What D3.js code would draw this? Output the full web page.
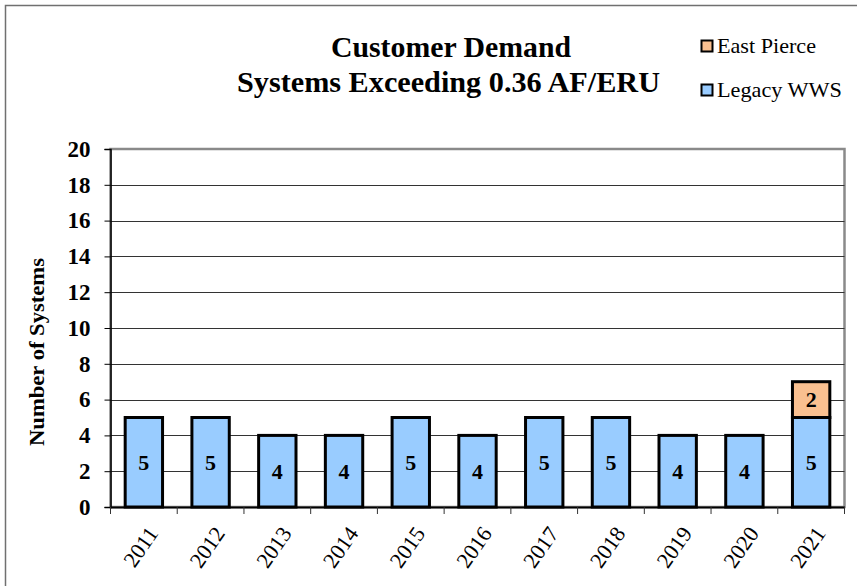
<!DOCTYPE html>
<html>
<head>
<meta charset="utf-8">
<script src="https://cdn.jsdelivr.net/npm/d3@7"></script>
<style>
  html, body { margin: 0; padding: 0; background: #fff; }
  svg { display: block; }
  svg text { font-family: "Liberation Serif", "Times New Roman", serif !important; }
</style>
</head>
<body>
<svg id="chart" width="857" height="586"></svg>
<script>
const years = ["2011","2012","2013","2014","2015","2016","2017","2018","2019","2020","2021"];
const legacyWWS = [5,5,4,4,5,4,5,5,4,4,5];
const eastPierce = [0,0,0,0,0,0,0,0,0,0,2];
const yTicks = [0,2,4,6,8,10,12,14,16,18,20];
const seriesNames = ["Legacy WWS", "East Pierce"];
const seriesColors = ["#99CCFF", "#FAC090"];
const titleLines = ["Customer Demand", "Systems Exceeding 0.36 AF/ERU"];
const yTitle = "Number of Systems";

const FONT = "Liberation Serif, Times New Roman, serif";
const svg = d3.select("#chart");
const plot = {left: 110.5, right: 844.5, top: 149, bottom: 507};

// outer border
svg.append("rect").attr("x", 5.5).attr("y", 5.5).attr("width", 900).attr("height", 700)
  .attr("fill", "none").attr("stroke", "#707070").attr("stroke-width", 1.5);

const x = d3.scaleBand().domain(years).range([plot.left, plot.right]).paddingInner(0.44).paddingOuter(0.22);
const y = d3.scaleLinear().domain([0, 20]).range([plot.bottom, plot.top]);

// plot area frame (gray)
svg.append("rect").attr("x", plot.left).attr("y", plot.top)
  .attr("width", plot.right - plot.left).attr("height", plot.bottom - plot.top)
  .attr("fill", "none").attr("stroke", "#8a8a8a").attr("stroke-width", 2.5);

// gridlines
svg.append("g").selectAll("line").data(yTicks.filter(d => d > 0 && d < 20)).join("line")
  .attr("x1", plot.left).attr("x2", plot.right)
  .attr("y1", d => Math.round(y(d)) + 0.5).attr("y2", d => Math.round(y(d)) + 0.5)
  .attr("stroke", "#333").attr("stroke-width", 1);

// stacked data
const rows = years.map((yr, i) => ({year: yr, "Legacy WWS": legacyWWS[i], "East Pierce": eastPierce[i]}));
const stack = d3.stack().keys(seriesNames)(rows);

const bars = svg.append("g");
stack.forEach((s, si) => {
  bars.append("g").selectAll("rect").data(s.filter(d => d[1] - d[0] > 0)).join("rect")
    .attr("x", d => x(d.data.year))
    .attr("y", d => y(d[1]))
    .attr("width", x.bandwidth())
    .attr("height", d => y(d[0]) - y(d[1]))
    .attr("fill", seriesColors[si])
    .attr("stroke", "#000").attr("stroke-width", 3);
});

// segment labels
stack.forEach((s, si) => {
  bars.append("g").selectAll("text").data(s.filter(d => d[1] - d[0] > 0)).join("text")
    .attr("x", d => x(d.data.year) + x.bandwidth() / 2)
    .attr("y", d => y((d[0] + d[1]) / 2))
    .attr("dy", "0.35em")
    .attr("text-anchor", "middle")
    .attr("font-family", FONT)
    .attr("font-weight", "bold").attr("font-size", 22)
    .text(d => d[1] - d[0]);
});

// Y axis
const yAxis = d3.axisLeft(y).tickValues(yTicks).tickSize(6).tickPadding(14);
const gy = svg.append("g").attr("transform", `translate(${plot.left},0)`).call(yAxis);
gy.attr("font-family", FONT);
gy.select(".domain").attr("stroke", "#000").attr("stroke-width", 1.5);
gy.selectAll(".tick line").attr("stroke", "#000");
gy.selectAll(".tick text")
  .attr("font-size", 23).attr("font-weight", "bold").attr("fill", "#000");

// X axis
const xAxis = d3.axisBottom(x).tickSize(0).tickFormat("");
const gx = svg.append("g").attr("transform", `translate(0,${plot.bottom})`).call(xAxis);
gx.select(".domain").attr("stroke", "#000").attr("stroke-width", 2);
const bounds = d3.range(years.length + 1).map(i => plot.left + i * (plot.right - plot.left) / years.length);
gx.append("g").selectAll("line").data(bounds).join("line")
  .attr("x1", d => d).attr("x2", d => d).attr("y1", 0).attr("y2", 7)
  .attr("stroke", "#333").attr("stroke-width", 1);
// labels
svg.append("g").selectAll("text").data(years).join("text")
  .attr("transform", d => `translate(${x(d) + x.bandwidth() / 2 + 9},${plot.bottom + 22}) rotate(-55)`)
  .attr("text-anchor", "end")
  .attr("dy", "0.35em")
  .attr("font-family", FONT)
  .attr("font-size", 22)
  .text(d => d);

// Y title
svg.append("text")
  .attr("transform", `translate(44,352) rotate(-90)`)
  .attr("text-anchor", "middle")
  .attr("font-family", FONT)
  .attr("font-weight", "bold").attr("font-size", 22)
  .attr("textLength", 188).attr("lengthAdjust", "spacingAndGlyphs")
  .text(yTitle);

// Title
svg.append("text").attr("x", 451).attr("y", 56.5).attr("text-anchor", "middle")
  .attr("font-family", FONT)
  .attr("font-weight", "bold").attr("font-size", 30)
  .attr("textLength", 240).attr("lengthAdjust", "spacingAndGlyphs")
  .text(titleLines[0]);
svg.append("text").attr("x", 448.5).attr("y", 91.5).attr("text-anchor", "middle")
  .attr("font-family", FONT)
  .attr("font-weight", "bold").attr("font-size", 30)
  .attr("textLength", 423).attr("lengthAdjust", "spacingAndGlyphs")
  .text(titleLines[1]);

// Legend
const legendItems = [
  {name: seriesNames[1], color: seriesColors[1], y: 40, len: 99},
  {name: seriesNames[0], color: seriesColors[0], y: 84, len: 125}
];
const lg = svg.append("g");
legendItems.forEach(it => {
  lg.append("rect").attr("x", 701.5).attr("y", it.y + 0.5).attr("width", 11).attr("height", 11)
    .attr("fill", it.color).attr("stroke", "#000").attr("stroke-width", 2);
  lg.append("text").attr("x", 717).attr("y", it.y + 13)
    .attr("font-family", FONT)
    .attr("font-size", 22)
    .attr("textLength", it.len).attr("lengthAdjust", "spacingAndGlyphs")
    .text(it.name);
});
</script>
</body>
</html>
